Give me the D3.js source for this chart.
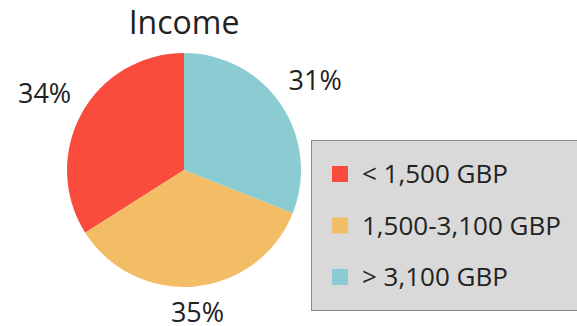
<!DOCTYPE html>
<html>
<head>
<meta charset="utf-8">
<script src="https://cdn.jsdelivr.net/npm/d3@7"></script>
<style>
  html, body { margin: 0; padding: 0; background: #fff; }
  svg { display: block; font-family: "Open Sans", "Noto Sans", sans-serif; }
</style>
</head>
<body>
<svg id="chart" width="577" height="326"></svg>
<script>
// Income distribution
const categories = ["< 1,500 GBP", "1,500-3,100 GBP", "> 3,100 GBP"];
const shares = [34, 35, 31];
const colors = ["#fa4c3c", "#f3bd65", "#8bccd3"];

const svg = d3.select("#chart");
const cx = 184, cy = 170, radius = 117;

svg.append("text")
  .attr("x", cx).attr("y", 34)
  .attr("text-anchor", "middle")
  .attr("font-size", 32)
  .attr("fill", "#222")
  .text("Income");

// slices run counter-clockwise from 12 o'clock, so the last category sits on the right
const data = categories.map((c, i) => ({ name: c, value: shares[i], color: colors[i] }));
const pie = d3.pie()
  .sort(null)
  .value(d => d.value)
  .startAngle(2 * Math.PI)
  .endAngle(0);

const arcs = pie(data);
const arc = d3.arc().innerRadius(0).outerRadius(radius);

const g = svg.append("g").attr("transform", `translate(${cx},${cy})`);
g.selectAll("path.slice")
  .data(arcs)
  .join("path")
  .attr("class", "slice")
  .attr("d", arc)
  .attr("fill", d => d.data.color);

// percentage labels: pushed outward until their box clears the rim by a fixed gap
const labelFont = 27, labelGap = 14;
g.selectAll("text.pct")
  .data(arcs)
  .join("text")
  .attr("class", "pct")
  .attr("text-anchor", "middle")
  .attr("dy", "0.35em")
  .attr("font-size", labelFont)
  .attr("fill", "#222")
  .text(d => d.data.value + "%")
  .each(function (d) {
    const w = this.getBBox().width;
    const h = labelFont * 0.74;
    const mid = (d.startAngle + d.endAngle) / 2;
    const ux = Math.sin(mid), uy = -Math.cos(mid);
    const r = radius + labelGap + Math.abs(ux) * w / 2 + Math.abs(uy) * h / 2;
    d3.select(this).attr("transform", `translate(${ux * r},${uy * r})`);
  });

// legend
const lg = svg.append("g").attr("transform", "translate(311,140)");
lg.append("rect")
  .attr("x", 0.5).attr("y", 0.5)
  .attr("width", 270).attr("height", 170)
  .attr("fill", "#d9d9d9")
  .attr("stroke", "#8a8a8a");

const rowY = d3.scalePoint().domain(categories).range([34, 137]);
const rows = lg.selectAll("g.row")
  .data(data)
  .join("g")
  .attr("class", "row")
  .attr("transform", d => `translate(0,${rowY(d.name)})`);
rows.append("rect")
  .attr("x", 21).attr("y", -8)
  .attr("width", 16).attr("height", 16)
  .attr("fill", d => d.color);
rows.append("text")
  .attr("x", 51).attr("dy", "0.35em")
  .attr("font-size", 26)
  .attr("fill", "#222")
  .text(d => d.name);
</script>
</body>
</html>
